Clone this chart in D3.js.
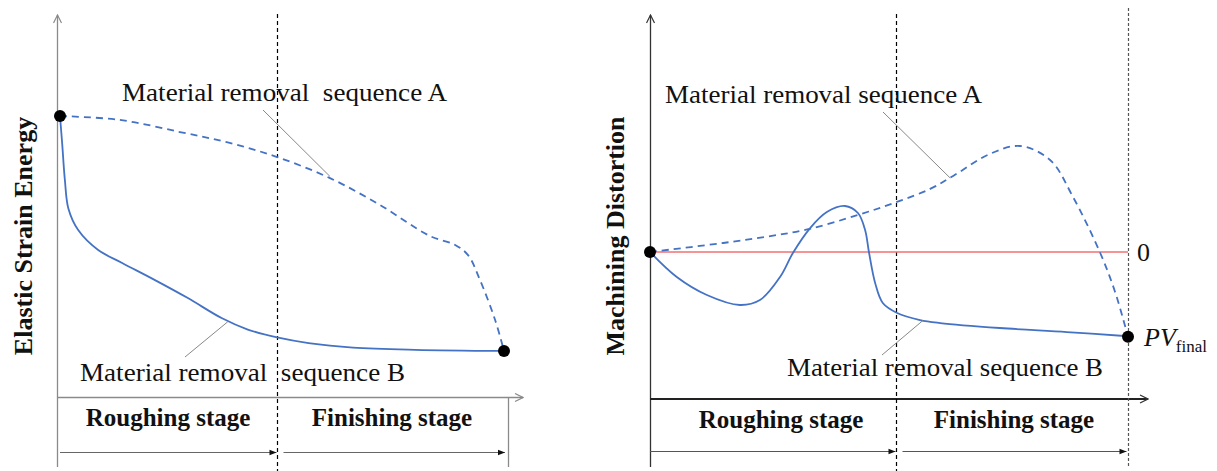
<!DOCTYPE html>
<html>
<head>
<meta charset="utf-8">
<script src="https://cdn.jsdelivr.net/npm/d3@7"></script>
<style>
  body { margin: 0; background: #fff; }
  svg { display: block; }
  text { font-family: "Liberation Serif", "Times New Roman", serif; fill: #111; }
</style>
</head>
<body>
<svg></svg>
<script>
'use strict';

// progress through machining (0 = start, 100 = end), stage boundary
var leftStageSplit = 48.9;
var rightStageSplit = 51.5;

// left panel: elastic strain energy (relative units)
var energyA = [[0,100],[13.5,98.6],[27,94.3],[38,90.5],[48.9,85.4],[60.8,77.9],[72.1,68.3],[83.3,57.3],[89,54.1],[91.9,50.5],[94.6,41.6],[98,27.4],[100,16.4]];
var energyB = [[0,100],[0.5,90],[1.1,77.2],[1.9,67],[4.1,59.4],[8.6,52.3],[14,47.7],[21.4,41.6],[28.8,35.2],[36.5,28],[42.3,24],[48.9,21.2],[56,19.2],[66,17.6],[80,16.8],[100,16.4]];

// right panel: machining distortion (relative units, 0 = reference line)
var distA = [[0,0],[15.3,8.5],[24.5,14.5],[33.1,21.5],[43.5,34.9],[51.5,47],[58.6,59.5],[63.5,72],[71.1,92.5],[77.4,100],[83.7,86.8],[88.5,51.9],[94.1,0],[97.3,-37.7],[100,-80]];
var distB = [[0,0],[5.6,-23.6],[11.9,-40.6],[18.8,-50],[23,-45.3],[27.2,-23.6],[29.9,-0.9],[33.5,22.6],[37,37.7],[40.8,43.4],[43.5,36.8],[45,20.8],[45.8,0],[47.1,-29.2],[48.7,-48.1],[51.7,-57.5],[56.5,-64.2],[60.7,-67],[73.2,-71.7],[87.2,-75.5],[100,-79.5]];

var stageLabels = ['Roughing stage', 'Finishing stage'];
var seqLabels = ['Material removal  sequence A', 'Material removal  sequence B'];
var seqLabelsR = ['Material removal sequence A', 'Material removal sequence B'];

var W = 1217, H = 471;
var BLUE = '#4472c4';

var svg = d3.select('svg').attr('width', W).attr('height', H);

var defs = svg.append('defs');
function chevron(id, color) {
  defs.append('marker').attr('id', id)
    .attr('viewBox', '0 0 10 10').attr('refX', 9).attr('refY', 5)
    .attr('markerWidth', 10).attr('markerHeight', 10).attr('markerUnits', 'userSpaceOnUse')
    .attr('orient', 'auto')
    .append('path').attr('d', 'M1,1 L9,5 L1,9').attr('fill', 'none').attr('stroke', color).attr('stroke-width', 1.2);
}
function triangle(id, color) {
  defs.append('marker').attr('id', id)
    .attr('viewBox', '0 0 10 10').attr('refX', 10).attr('refY', 5)
    .attr('markerWidth', 9).attr('markerHeight', 7).attr('markerUnits', 'userSpaceOnUse')
    .attr('orient', 'auto')
    .append('path').attr('d', 'M0,1 L10,5 L0,9 Z').attr('fill', color);
}
chevron('chevGray', '#8a8a8a');
chevron('chevDark', '#333');
triangle('triBlack', '#111');

function line(g, x1, y1, x2, y2, color, width, dash, marker) {
  var l = g.append('line').attr('x1', x1).attr('y1', y1).attr('x2', x2).attr('y2', y2)
    .attr('stroke', color).attr('stroke-width', width);
  if (dash) l.attr('stroke-dasharray', dash);
  if (marker) l.attr('marker-end', 'url(#' + marker + ')');
  return l;
}
// snap a vertical guide to the pixel grid so it stays crisp
function crisp(x) { return Math.round(x) + 0.5; }

function label(g, x, y, txt, len) {
  return g.append('text').attr('x', x).attr('y', y).attr('font-size', 26)
    .attr('textLength', len).attr('lengthAdjust', 'spacingAndGlyphs')
    .style('white-space', 'pre').text(txt);
}

// ---------------- left panel ----------------
var xL = d3.scaleLinear().domain([0, 100]).range([60, 504]);
var yL = d3.scaleLinear().domain([0, 100]).range([397, 116]);
var left = svg.append('g');

line(left, 57.5, 467, 57.5, 15, '#8a8a8a', 1.3, null, 'chevGray');
line(left, 57, 397.5, 523, 397.5, '#8a8a8a', 1.3, null, 'chevGray');
line(left, 508.5, 397, 508.5, 467, '#8a8a8a', 1.3);
var splitL = crisp(xL(leftStageSplit));
line(left, splitL, 14, splitL, 471, '#000', 1.2, '4,3');
line(left, 60, 452.5, splitL - 1, 452.5, '#666', 1.1, null, 'triBlack');
line(left, splitL + 6, 452.5, 505, 452.5, '#666', 1.1, null, 'triBlack');

var lineL = d3.line().x(function(d){return xL(d[0])}).y(function(d){return yL(d[1])}).curve(d3.curveCatmullRom.alpha(0.5));
left.append('path').attr('d', lineL(energyA)).attr('fill', 'none')
  .attr('stroke', BLUE).attr('stroke-width', 1.8).attr('stroke-dasharray', '7,5');
left.append('path').attr('d', lineL(energyB)).attr('fill', 'none')
  .attr('stroke', BLUE).attr('stroke-width', 1.8);

left.append('circle').attr('cx', xL(0)).attr('cy', yL(100)).attr('r', 6).attr('fill', '#000');
left.append('circle').attr('cx', xL(100)).attr('cy', yL(16.4)).attr('r', 6).attr('fill', '#000');

// leader lines
line(left, 263, 110, xL(60.8), yL(78.5), '#888', 1);
line(left, 185, 357, xL(37.8), yL(26.8), '#888', 1);

label(left, 122, 101, seqLabels[0], 325);
label(left, 80, 381, seqLabels[1], 325);
left.append('text').attr('x', 168).attr('y', 426).attr('font-size', 25).attr('font-weight', 'bold')
  .attr('text-anchor', 'middle').text(stageLabels[0]);
left.append('text').attr('x', 392).attr('y', 426).attr('font-size', 25).attr('font-weight', 'bold')
  .attr('text-anchor', 'middle').text(stageLabels[1]);
left.append('text').attr('transform', 'translate(32,236) rotate(-90)')
  .attr('font-size', 26).attr('font-weight', 'bold').attr('text-anchor', 'middle')
  .text('Elastic Strain Energy');

// ---------------- right panel ----------------
var xR = d3.scaleLinear().domain([0, 100]).range([650, 1128]);
var yR = d3.scaleLinear().domain([0, 100]).range([252, 146]);
var right = svg.append('g');

line(right, 650.5, 467, 650.5, 15, '#333', 1.3, null, 'chevDark');
line(right, 650, 399, 1148, 399, '#222', 1.8, null, 'chevDark');
var splitR = crisp(xR(rightStageSplit));
var endR = crisp(xR(100));
line(right, splitR, 14, splitR, 471, '#000', 1.2, '4,3');
line(right, endR, 8, endR, 467, '#555', 1.2, '3,2');
line(right, 650, 451.5, splitR - 1, 451.5, '#555', 1.1, null, 'triBlack');
line(right, splitR + 6, 451.5, endR - 2, 451.5, '#555', 1.1, null, 'triBlack');

// zero line
line(right, xR(0), yR(0), xR(100), yR(0), '#f07070', 1.3);

var lineR = d3.line().x(function(d){return xR(d[0])}).y(function(d){return yR(d[1])}).curve(d3.curveCatmullRom.alpha(0.5));
right.append('path').attr('d', lineR(distA)).attr('fill', 'none')
  .attr('stroke', BLUE).attr('stroke-width', 1.8).attr('stroke-dasharray', '7,5');
right.append('path').attr('d', lineR(distB)).attr('fill', 'none')
  .attr('stroke', BLUE).attr('stroke-width', 1.8);

right.append('circle').attr('cx', xR(0)).attr('cy', yR(0)).attr('r', 6).attr('fill', '#000');
right.append('circle').attr('cx', xR(100)).attr('cy', yR(-80)).attr('r', 6).attr('fill', '#000');

line(right, 883, 112, xR(62.8), yR(69.8), '#888', 1);
line(right, 882, 355, xR(57.1), yR(-64.6), '#888', 1);

label(right, 665, 103, seqLabelsR[0], 317);
label(right, 787, 376, seqLabelsR[1], 316);
right.append('text').attr('x', 781).attr('y', 428).attr('font-size', 25).attr('font-weight', 'bold')
  .attr('text-anchor', 'middle').text(stageLabels[0]);
right.append('text').attr('x', 1014).attr('y', 428).attr('font-size', 25).attr('font-weight', 'bold')
  .attr('text-anchor', 'middle').text(stageLabels[1]);
right.append('text').attr('transform', 'translate(624,236) rotate(-90)')
  .attr('font-size', 26).attr('font-weight', 'bold').attr('text-anchor', 'middle')
  .text('Machining Distortion');

right.append('text').attr('x', 1137).attr('y', 261).attr('font-size', 26).text('0');
var pv = right.append('text').attr('x', 1144).attr('y', 346).attr('font-size', 26);
pv.append('tspan').attr('font-style', 'italic').text('PV');
pv.append('tspan').attr('font-size', 17).attr('dy', 6).text('final');
</script>
</body>
</html>
